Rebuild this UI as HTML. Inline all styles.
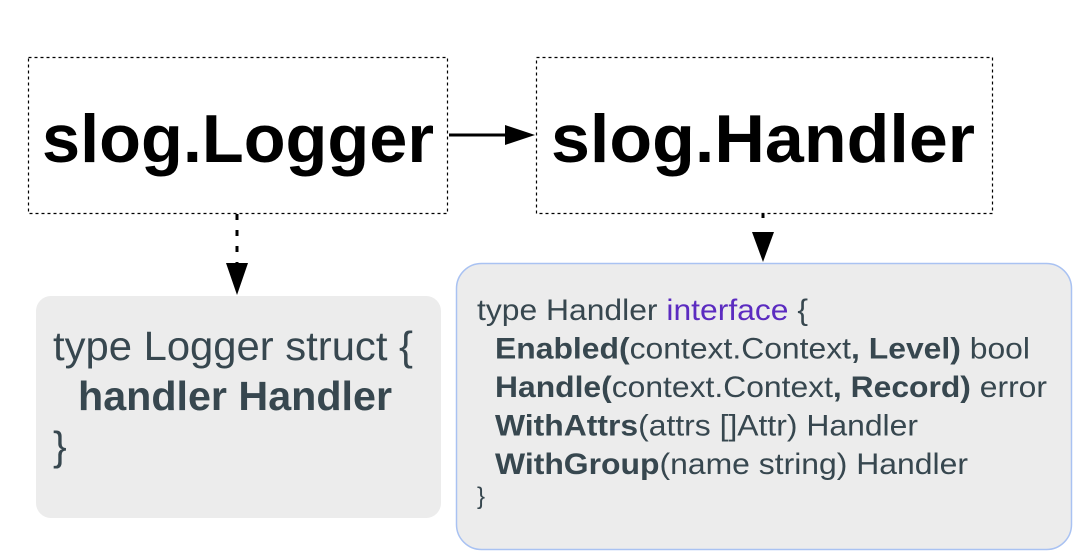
<!DOCTYPE html>
<html><head><meta charset="utf-8"><style>
html,body{margin:0;padding:0;background:#fff;width:1076px;height:560px;overflow:hidden}
</style></head><body>
<svg width="1076" height="560" viewBox="0 0 1076 560" xmlns="http://www.w3.org/2000/svg" font-family="Liberation Sans, sans-serif">
<rect x="0" y="0" width="1076" height="560" fill="#fff"/>
<rect x="28.5" y="57.5" width="419" height="156" fill="none" stroke="#000" stroke-width="1.2" stroke-dasharray="3,3"/>
<rect x="536.5" y="57.5" width="456" height="156" fill="none" stroke="#000" stroke-width="1.2" stroke-dasharray="3,3"/>
<text x="42" y="162" font-size="68" font-weight="bold" textLength="392" lengthAdjust="spacingAndGlyphs">slog.Logger</text>
<text x="551" y="162" font-size="68" font-weight="bold" textLength="424" lengthAdjust="spacingAndGlyphs">slog.Handler</text>
<line x1="449" y1="135" x2="508" y2="135" stroke="#000" stroke-width="3"/>
<polygon points="505,125 535,135 505,145" fill="#000"/>
<line x1="237" y1="214" x2="237" y2="263" stroke="#000" stroke-width="3" stroke-dasharray="6,10"/>
<polygon points="226,263 248,263 237,295" fill="#000"/>
<line x1="763" y1="214" x2="763" y2="233" stroke="#000" stroke-width="3" stroke-dasharray="4,30"/>
<polygon points="752,232 774,232 763,262" fill="#000"/>
<rect x="36" y="296" width="405" height="222" rx="15" fill="#ececec"/>
<g fill="#37474f">
<text x="53" y="360" font-size="41" textLength="360" lengthAdjust="spacingAndGlyphs">type Logger struct {</text>
<text x="78" y="410" font-size="41" font-weight="bold" textLength="314" lengthAdjust="spacingAndGlyphs">handler Handler</text>
<text x="53" y="460" font-size="41">}</text>
</g>
<rect x="456.5" y="263.5" width="615" height="286" rx="25" fill="#ececec" stroke="#a9c2f2" stroke-width="1.5"/>
<g fill="#37474f" font-size="30">
<text x="477" y="320" textLength="331" lengthAdjust="spacingAndGlyphs">type Handler <tspan fill="#5b2bc0">interface</tspan> {</text>
<text x="495" y="358.5" textLength="535" lengthAdjust="spacingAndGlyphs"><tspan font-weight="bold">Enabled(</tspan>context.Context<tspan font-weight="bold">, Level)</tspan> bool</text>
<text x="495" y="397" textLength="552" lengthAdjust="spacingAndGlyphs"><tspan font-weight="bold">Handle(</tspan>context.Context<tspan font-weight="bold">, Record)</tspan> error</text>
<text x="495" y="435.5" textLength="423" lengthAdjust="spacingAndGlyphs"><tspan font-weight="bold">WithAttrs</tspan>(attrs []Attr) Handler</text>
<text x="495" y="474" textLength="473" lengthAdjust="spacingAndGlyphs"><tspan font-weight="bold">WithGroup</tspan>(name string) Handler</text>
<text x="477" y="504" font-size="24">}</text>
</g>
</svg>
</body></html>
